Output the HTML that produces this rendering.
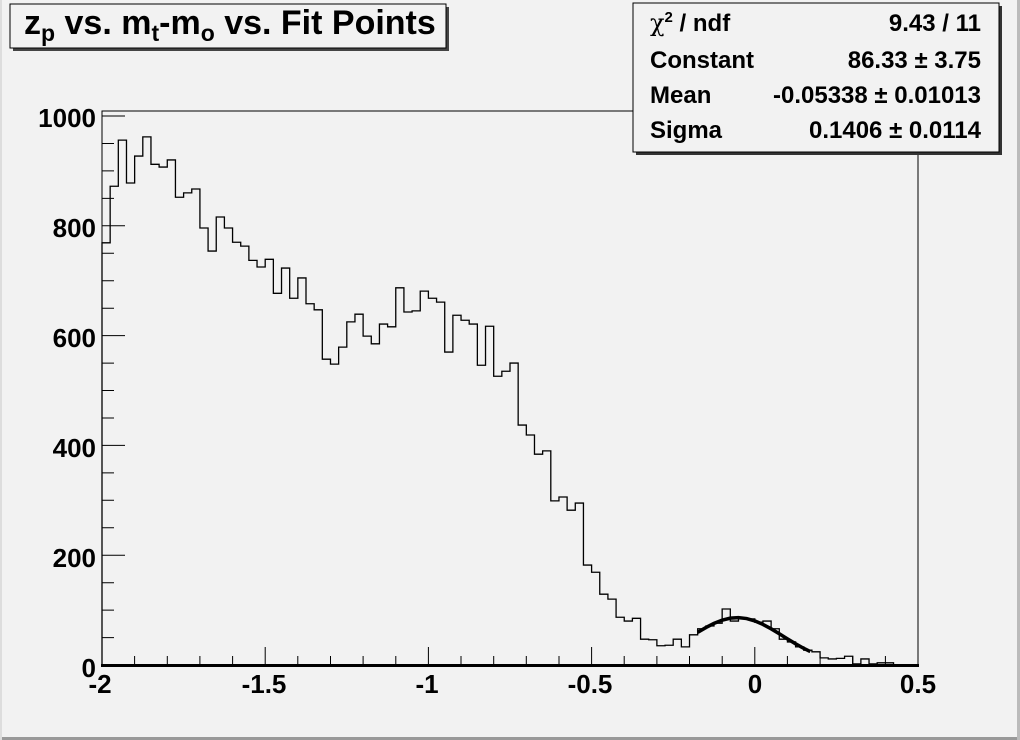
<!DOCTYPE html>
<html><head><meta charset="utf-8"><style>
html,body{margin:0;padding:0;background:#f2f2f2;}
svg{display:block;}
text{font-family:"Liberation Sans",Arial,sans-serif;font-weight:bold;fill:#000;}
</style></head><body>
<svg width="1020" height="740" viewBox="0 0 1020 740" xmlns="http://www.w3.org/2000/svg">
<rect x="0" y="0" width="1020" height="740" fill="#f2f2f2"/>
<line x1="0" y1="738.5" x2="1020" y2="738.5" stroke="#999" stroke-width="3"/>
<line x1="1018.5" y1="0" x2="1018.5" y2="740" stroke="#bbb" stroke-width="3"/>
<line x1="1" y1="0" x2="1" y2="740" stroke="#ddd" stroke-width="2"/>
<rect x="102" y="111" width="816" height="554" fill="none" stroke="#000" stroke-width="1"/>
<line x1="101" y1="665.5" x2="919" y2="665.5" stroke="#000" stroke-width="3"/>
<g transform="translate(102,665) scale(8.16,-0.549)">
<path fill="none" stroke="#000" stroke-width="1.3" vector-effect="non-scaling-stroke" d="M0 0 V769 H1 V872 H2 V956 H3 V878 H4 V927 H5 V962 H6 V912 H7 V907 H8 V920 H9 V852 H10 V860 H11 V867 H12 V796 H13 V754 H14 V816 H15 V796 H16 V770 H17 V763 H18 V737 H19 V725 H20 V739 H21 V677 H22 V723 H23 V668 H24 V705 H25 V658 H26 V647 H27 V557 H28 V548 H29 V579 H30 V625 H31 V639 H32 V599 H33 V585 H34 V621 H35 V616 H36 V687 H37 V643 H38 V645 H39 V681 H40 V668 H41 V661 H42 V570 H43 V637 H44 V628 H45 V621 H46 V546 H47 V617 H48 V526 H49 V535 H50 V550 H51 V437 H52 V419 H53 V384 H54 V390 H55 V299 H56 V306 H57 V282 H58 V295 H59 V182 H60 V169 H61 V129 H62 V120 H63 V87 H64 V80 H65 V85 H66 V47 H67 V46 H68 V35 H69 V36 H70 V47 H71 V33 H72 V55 H73 V66 H74 V71 H75 V76 H76 V102 H77 V80 H78 V84 H79 V84 H80 V78 H81 V80 H82 V66 H83 V47 H84 V42 H85 V33 H86 V27 H87 V24 H88 V13 H89 V11 H90 V12 H91 V16 H92 V2 H93 V11 H94 V2 H95 V4 H96 V4 H97 V0 H100"/>
<polyline fill="none" stroke="#000" stroke-width="3.5" vector-effect="non-scaling-stroke" points="73,59.4 74,68.2 75,75.8 76,81.7 77,85.3 78,86.3 79,84.6 80,80.3 81,73.9 82,65.9 83,56.9 84,47.6 85,38.6 86,30.3 86.8,24.4"/>
</g>
<g stroke="#000" stroke-width="1">
<path d="M102 665V647 M265.2 665V647 M428.4 665V647 M591.6 665V647 M754.8 665V647 M918 665V647
M134.6 665V656 M167.3 665V656 M199.9 665V656 M232.6 665V656
M297.8 665V656 M330.5 665V656 M363.1 665V656 M395.8 665V656
M461 665V656 M493.7 665V656 M526.3 665V656 M559 665V656
M624.2 665V656 M656.9 665V656 M689.5 665V656 M722.2 665V656
M787.4 665V656 M820.1 665V656 M852.7 665V656 M885.4 665V656"/>
<path d="M102 665H125 M102 555.2H125 M102 445.4H125 M102 335.6H125 M102 225.8H125 M102 116H125
M102 637.6H114 M102 610.1H114 M102 582.7H114
M102 527.8H114 M102 500.3H114 M102 472.9H114
M102 418H114 M102 390.5H114 M102 363.1H114
M102 308.2H114 M102 280.7H114 M102 253.3H114
M102 198.4H114 M102 170.9H114 M102 143.5H114"/>
</g>
<g font-size="26" text-anchor="end">
<text x="96" y="677">0</text>
<text x="96" y="567">200</text>
<text x="96" y="457">400</text>
<text x="96" y="347">600</text>
<text x="96" y="237">800</text>
<text x="96" y="127">1000</text>
</g>
<g font-size="26" text-anchor="middle">
<text x="100" y="693">-2</text>
<text x="264" y="693">-1.5</text>
<text x="427" y="693">-1</text>
<text x="590" y="693">-0.5</text>
<text x="755" y="693">0</text>
<text x="918" y="693">0.5</text>
</g>
<rect x="13" y="7" width="436" height="44" fill="#444"/>
<rect x="10" y="4" width="436" height="44" fill="#f2f2f2" stroke="#000" stroke-width="1"/>
<text x="24" y="34" font-size="34">z<tspan font-size="23" dy="7">p</tspan><tspan dy="-7"> vs. m</tspan><tspan font-size="23" dy="7">t</tspan><tspan dy="-7">-m</tspan><tspan font-size="23" dy="7">o</tspan><tspan dy="-7"> vs. Fit Points</tspan></text>
<rect x="636" y="6" width="366" height="149" fill="#333"/>
<rect x="633" y="3" width="366" height="149" fill="#f2f2f2" stroke="#000" stroke-width="1"/>
<g font-size="24">
<text x="650" y="31"><tspan font-family="DejaVu Serif" font-weight="normal">χ</tspan><tspan font-size="15" dy="-9">2</tspan><tspan dy="9"> / ndf</tspan></text>
<text x="650" y="68">Constant</text>
<text x="650" y="103">Mean</text>
<text x="650" y="138">Sigma</text>
</g>
<g font-size="24" text-anchor="end">
<text x="981" y="31">9.43 / 11</text>
<text x="981" y="68">86.33 ± 3.75</text>
<text x="981" y="103">-0.05338 ± 0.01013</text>
<text x="981" y="138">0.1406 ± 0.0114</text>
</g>
</svg>
</body></html>
